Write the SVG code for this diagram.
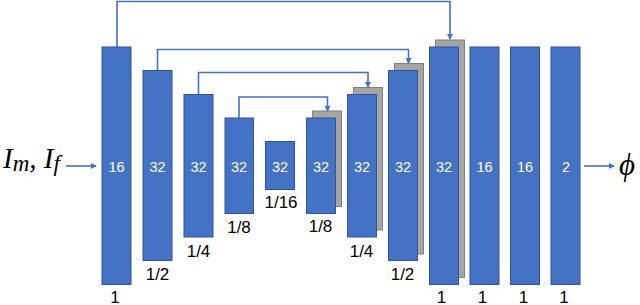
<svg xmlns="http://www.w3.org/2000/svg" width="640" height="305" viewBox="0 0 640 305">
<defs>
<marker id="ah" markerWidth="6" markerHeight="6" refX="5" refY="3" orient="auto" markerUnits="userSpaceOnUse">
<path d="M0,0 L6,3 L0,6 Z" fill="#4472C4"/>
</marker>
</defs>
<style>
.b{fill:#4472C4;stroke:#2F5597;stroke-width:1}
.g{fill:#A5A5A5;stroke:#7F7F7F;stroke-width:1}
.n{fill:#FFFFFF;font-family:"Liberation Sans",Arial,sans-serif;font-size:14.5px;text-anchor:middle}
.l{fill:#000000;font-family:"Liberation Sans",Arial,sans-serif;font-size:17px;text-anchor:middle}
.c{fill:none;stroke:#4472C4;stroke-width:1.6}
</style>
<rect width="640" height="305" fill="#FFFFFF"/>
<g id="connectors">
<polyline class="c" points="117,47 117,1.5 450,1.5 450,39" marker-end="url(#ah)"/>
<polyline class="c" points="157.5,70 157.5,49.5 408.5,49.5 408.5,63" marker-end="url(#ah)"/>
<polyline class="c" points="198.5,94 198.5,72.5 368,72.5 368,87" marker-end="url(#ah)"/>
<polyline class="c" points="239,118 239,97 327.5,97 327.5,111" marker-end="url(#ah)"/>
<line class="c" x1="66" y1="166" x2="96" y2="166" marker-end="url(#ah)"/>
<line class="c" x1="584" y1="166" x2="614" y2="166" marker-end="url(#ah)"/>
</g>
<g id="input"><text x="3" y="168" font-family="Liberation Serif,serif" font-style="italic" font-size="29">I<tspan font-size="23" dy="3">m</tspan><tspan dy="-3">, I</tspan><tspan font-size="23" dy="3">f</tspan></text></g>
<g id="output"><text x="619" y="175" font-family="Liberation Serif,serif" font-style="italic" font-size="31">ϕ</text></g>
<g id="enc1"><rect class="b" x="102" y="47" width="29" height="237.5"/><text class="n" x="116.5" y="171.5">16</text><text class="l" x="115" y="302.5">1</text></g>
<g id="enc2"><rect class="b" x="143" y="70.5" width="29" height="190"/><text class="n" x="157.5" y="171.5">32</text><text class="l" x="157.5" y="279.5">1/2</text></g>
<g id="enc3"><rect class="b" x="184" y="94.5" width="29" height="142.5"/><text class="n" x="198.5" y="171.5">32</text><text class="l" x="198.5" y="256.5">1/4</text></g>
<g id="enc4"><rect class="b" x="225" y="118" width="28.5" height="95.5"/><text class="n" x="239" y="171.5">32</text><text class="l" x="239" y="232.5">1/8</text></g>
<g id="bottleneck"><rect class="b" x="265.5" y="141.5" width="29" height="48"/><text class="n" x="280" y="171.5">32</text><text class="l" x="281" y="207.5">1/16</text></g>
<g id="dec1"><rect class="g" x="312.5" y="111" width="29" height="95.5"/><rect class="b" x="306.5" y="118" width="29" height="95.5"/><text class="n" x="321" y="171.5">32</text><text class="l" x="320.5" y="231.5">1/8</text></g>
<g id="dec2"><rect class="g" x="353.5" y="87.5" width="29" height="142.5"/><rect class="b" x="347.5" y="94.5" width="29" height="142.5"/><text class="n" x="362" y="171.5">32</text><text class="l" x="361.5" y="256.5">1/4</text></g>
<g id="dec3"><rect class="g" x="394.5" y="63.5" width="29" height="190.5"/><rect class="b" x="388.5" y="70.5" width="29" height="190"/><text class="n" x="403" y="171.5">32</text><text class="l" x="402.5" y="279.5">1/2</text></g>
<g id="dec4"><rect class="g" x="435.5" y="40" width="29" height="237.5"/><rect class="b" x="429.5" y="47" width="29" height="237.5"/><text class="n" x="444" y="171.5">32</text><text class="l" x="441.5" y="302.5">1</text></g>
<g id="conv1"><rect class="b" x="470" y="47" width="29" height="237.5"/><text class="n" x="484.5" y="171.5">16</text><text class="l" x="482.5" y="302.5">1</text></g>
<g id="conv2"><rect class="b" x="510.5" y="47" width="29" height="237.5"/><text class="n" x="525" y="171.5">16</text><text class="l" x="523.5" y="302.5">1</text></g>
<g id="conv3"><rect class="b" x="551" y="47" width="29" height="237.5"/><text class="n" x="566" y="171.5">2</text><text class="l" x="564" y="302.5">1</text></g>
</svg>
